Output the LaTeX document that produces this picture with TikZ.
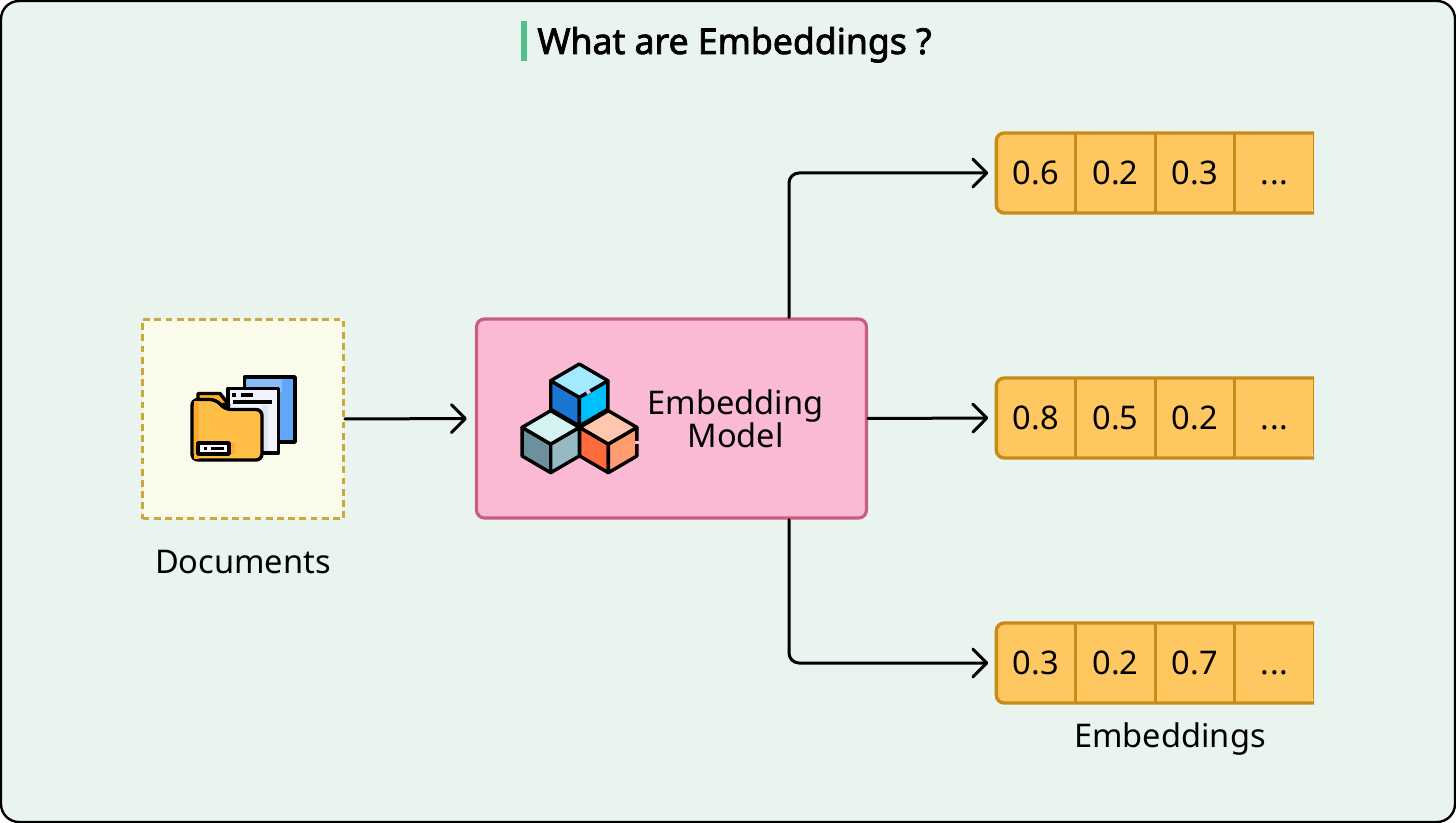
\documentclass[tikz,border=0pt]{standalone}
\usepackage{fontspec}
\setmainfont{Noto Sans}
\newfontfamily\titlefont[FakeBold=2.2]{Noto Sans}
\usetikzlibrary{arrows.meta,calc,positioning}
\definecolor{panelbg}{HTML}{EAF4EF}
\definecolor{barcol}{HTML}{52C08A}
\definecolor{docbg}{HTML}{FBFBEB}
\definecolor{docline}{HTML}{C9A83C}
\definecolor{modelbg}{HTML}{FBBAD4}
\definecolor{modelline}{HTML}{C85C82}
\definecolor{cellbg}{HTML}{FFC75F}
\definecolor{cellline}{HTML}{C98A1B}
\definecolor{folderdark}{HTML}{FFA92E}
\definecolor{folderbg}{HTML}{FFBE45}
\definecolor{sheetblue}{HTML}{5FA8F8}
\definecolor{sheetshade}{HTML}{DDE6EA}
\tikzset{
  >={Straight Barb[length=7pt,width=14pt,line width=1.5pt,round]},
  lbl/.style={font=\fontsize{16.3}{19}\selectfont,inner sep=0pt,text=black},
  titlelbl/.style={font=\titlefont\fontsize{17.8}{20}\selectfont,inner sep=0pt},
  panel/.style={draw=black,line width=1.2pt,fill=panelbg,rounded corners=9pt},
  docbox/.style={draw=docline,line width=1.4pt,dash pattern=on 3.4pt off 2.2pt,fill=docbg,
    minimum width=100.5pt,minimum height=99.5pt,inner sep=0pt},
  modelbox/.style={draw=modelline,line width=1.6pt,fill=modelbg,rounded corners=4pt,
    minimum width=195pt,minimum height=99.5pt,inner sep=0pt},
  cell/.style={minimum width=39.7pt,minimum height=40pt,inner sep=0pt,outer sep=0pt,lbl,
    text height=11.7pt,text depth=0pt},
  cellrule/.style={draw=cellline,line width=1.7pt},
  flow/.style={->,line width=1.5pt,shorten >=4pt,rounded corners=5pt,line cap=round},
  icon/.style={draw=black,line width=1.7pt,line join=round,line cap=round},
}
\begin{document}
\begin{tikzpicture}[x=0.5pt,y=-0.5pt]
  \useasboundingbox (0,0) rectangle (1456,823);
  \draw[panel] (1,1) rectangle (1455,822);
  \fill[barcol] (521,21) rectangle (527,61);
  \node[titlelbl,anchor=base west] (title) at (537,54) {What are Embeddings ?};

  \node[docbox] (docs) at (243,419) {};
  \node[lbl] (docslbl) at (243,562) {Documents};
  \node[modelbox] (model) at (671.5,418.5) {};
  \node[lbl,align=center,font=\fontsize{16.3}{16.5}\selectfont] (modellbl) at (735.5,419) {Embedding\\Model};

  \foreach \r/\y/\a/\b/\c in {1/173/0.6/0.2/0.3,2/418/0.8/0.5/0.2,3/663/0.3/0.2/0.7}{
    \path[fill=cellbg,rounded corners=4pt] (1314,\y-20*2) -| (996,\y+20*2) -- (1314,\y+20*2) [sharp corners] -- cycle;
    \node[cell] (c\r1) at (1036,\y) {\a};
    \node[cell] (c\r2) at (1115.5,\y) {\b};
    \node[cell] (c\r3) at (1195,\y) {\c};
    \node[cell] (c\r4) at (1274.5,\y) {.\kern0.4pt.\kern0.4pt.};
    \draw[cellrule,rounded corners=4pt] (c\r4.north east) -| (c\r1.south west) -- (c\r4.south east);
    \draw[cellrule] (c\r1.north east) -- (c\r1.south east) (c\r2.north east) -- (c\r2.south east)
      (c\r3.north east) -- (c\r3.south east);
    \draw[cellrule,line width=0.8pt] ([xshift=-0.4pt]c\r4.north east) -- ([xshift=-0.4pt]c\r4.south east);
  }
  \node[lbl] (emblbl) at (1170,739) {Embeddings};

  \coordinate (up) at ($(model.north)+(117.5,0)$);
  \coordinate (down) at ($(model.south)+(117.5,0)$);
  \draw[flow] (docs.east) -- (model.west);
  \draw[flow] (up) |- (c11.west);
  \draw[flow] (model.east) -- (c21.west);
  \draw[flow] (down) |- (c31.west);

  % folder icon
  \draw[icon,fill=sheetblue] (244.5,377) rectangle (295,442);
  \fill[sheetblue!75!white] (247,379) rectangle (282,392);
  \draw[icon,fill=white!95!blue] (228,388.5) rectangle (278.5,453);
  \fill[sheetshade] (262,405) rectangle (268,451.5);
  \fill[black] (232,393) rectangle (236,397);
  \draw[icon,line cap=butt] (241,395) -- (253,395) (233,402) -- (272,402);
  \draw[icon,fill=folderdark] (198,403) -- (198,393.5) -- (220,393.5) -- (229,405) -- cycle;
  \draw[icon,fill=folderbg,rounded corners=3pt] (192,399.5) -- (216,399.5) -- (225,409.5) -- (262,409.5)
    -- (262,460) -- (192,460) -- cycle;
  \fill[folderdark] (193.5,401) rectangle (199,458.5);
  \fill[folderdark] (229,443) rectangle (235,454);
  \draw[icon,fill=white] (198,443) rectangle (229,454);
  \draw[line width=1.5pt] (204,448.5) -- (207,448.5) (211,448.5) -- (224,448.5);

  % cube icon
  \foreach \x/\y/\p/\q/\s in {
    579.3/364/1976D2/00BFFF/A3E9FF,
    550.7/410.7/6C919C/95BAC6/D6F3F3,
    608.3/410.7/FF6B3D/FF9C70/FFC7B0}{
    \definecolor{cubeleft}{HTML}{\p}
    \definecolor{cuberight}{HTML}{\q}
    \definecolor{cubetop}{HTML}{\s}
    \draw[icon,fill=cubeleft] (\x-28.6,\y+16.7) -- (\x,\y+33.4) -- (\x,\y+62) -- (\x-28.6,\y+45.3) -- cycle;
    \draw[icon,fill=cuberight] (\x+28.6,\y+16.7) -- (\x,\y+33.4) -- (\x,\y+62) -- (\x+28.6,\y+45.3) -- cycle;
    \draw[icon,fill=cubetop] (\x,\y) -- (\x+28.6,\y+16.7) -- (\x,\y+33.4) -- (\x-28.6,\y+16.7) -- cycle;
  }
  % small breaks in the cube edges
  \draw[modelbg,line width=1.8pt] (586.5,393) -- (590,391) (568,469) -- (572,466.5);
  \draw[modelbg,line width=1.8pt] (636.7,441) -- (636.7,444);
\end{tikzpicture}
\end{document}
